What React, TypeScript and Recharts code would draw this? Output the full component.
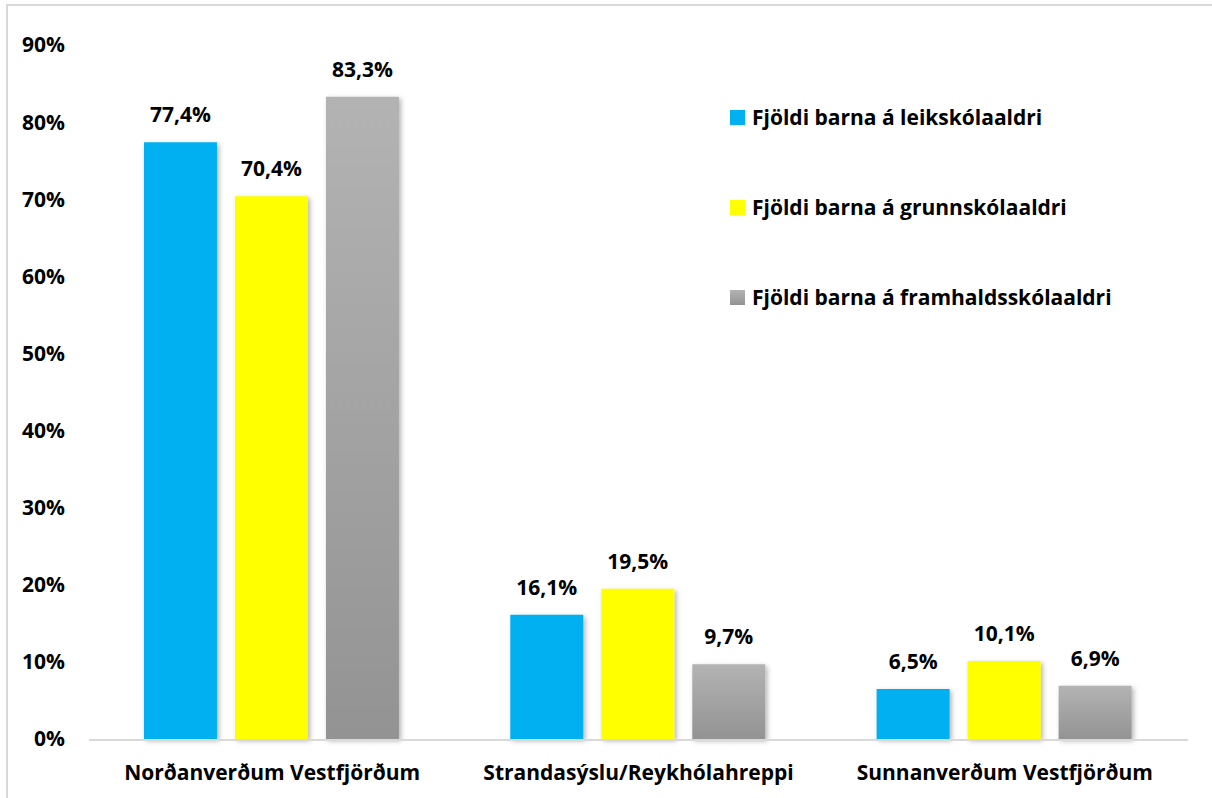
import {
  BarChart,
  Bar,
  XAxis,
  YAxis,
  LabelList,
} from "recharts";

const regions = [
  "Norðanverðum Vestfjörðum",
  "Strandasýslu/Reykhólahreppi",
  "Sunnanverðum Vestfjörðum",
];
const leikskoli = [77.4, 16.1, 6.5];
const grunnskoli = [70.4, 19.5, 10.1];
const framhaldsskoli = [83.3, 9.7, 6.9];
const yTicks = [0, 10, 20, 30, 40, 50, 60, 70, 80, 90];
const boundaryTicks = [0, 1, 2, 3];

const series = [
  { key: "leik", name: "Fjöldi barna á leikskólaaldri", fill: "#00B0F0" },
  { key: "grunn", name: "Fjöldi barna á grunnskólaaldri", fill: "#FFFF00" },
  { key: "fram", name: "Fjöldi barna á framhaldsskólaaldri", fill: "url(#grayGrad)" },
];

const chartData = regions.map((name, i) => ({
  name,
  leik: leikskoli[i],
  grunn: grunnskoli[i],
  fram: framhaldsskoli[i],
}));

const FONT = "'Open Sans', sans-serif";
const TEXT = { fill: "#000", fontSize: 21, fontWeight: 700, fontFamily: FONT };
const fmt = (v: number) => `${v.toFixed(1).replace(".", ",")}%`;

function LegendBox() {
  return (
    <div
      style={{
        position: "absolute",
        left: 730,
        top: 72,
        fontFamily: FONT,
        fontWeight: 700,
        fontSize: 21,
        color: "#000",
      }}
    >
      {series.map((s) => (
        <div key={s.key} style={{ display: "flex", alignItems: "center", height: 90 }}>
          <span
            style={{
              display: "inline-block",
              width: 15,
              height: 15,
              marginRight: 7,
              background: s.key === "fram" ? "linear-gradient(#b3b3b3, #939393)" : s.fill,
            }}
          />
          <span>{s.name}</span>
        </div>
      ))}
    </div>
  );
}

export default function App() {
  return (
    <div
      style={{
        position: "absolute",
        left: 0,
        top: 0,
        width: 1212,
        height: 798,
        background: "#fff",
        overflow: "hidden",
      }}
    >
      <div
        style={{
          position: "absolute",
          left: 6,
          top: 4,
          width: 1300,
          height: 900,
          border: "2px solid #d9d9d9",
        }}
      />
      <BarChart
        width={1212}
        height={798}
        data={chartData}
        margin={{ top: 45, right: 24, bottom: 0, left: 0 }}
        barCategoryGap="15%"
        barGap={18}
        style={{ position: "absolute", left: 0, top: 0 }}
      >
        <defs>
          <linearGradient id="grayGrad" x1="0" y1="0" x2="0" y2="1">
            <stop offset="0%" stopColor="#b3b3b3" />
            <stop offset="100%" stopColor="#939393" />
          </linearGradient>
          <filter id="shadow" x="-20%" y="-20%" width="140%" height="140%">
            <feDropShadow dx="2" dy="2" stdDeviation="2.5" floodColor="#000" floodOpacity="0.3" />
          </filter>
        </defs>
        <XAxis
          dataKey="name"
          axisLine={false}
          tickLine={false}
          tickSize={0}
          tickMargin={26}
          height={1}
          tick={TEXT}
          interval={0}
        />
        <XAxis
          xAxisId="bounds"
          type="number"
          domain={[0, 3]}
          ticks={boundaryTicks}
          tick={false}
          tickSize={7}
          height={58}
          stroke="#d9d9d9"
          strokeWidth={2}
          allowDataOverflow
        />
        <YAxis
          width={89}
          domain={[0, 90]}
          ticks={yTicks}
          axisLine={false}
          tickLine={false}
          tickSize={0}
          tickMargin={24}
          tickFormatter={(v) => `${v}%`}
          tick={TEXT}
        />
        {series.map((s) => (
          <Bar
            key={s.key}
            dataKey={s.key}
            name={s.name}
            fill={s.fill}
            filter="url(#shadow)"
            isAnimationActive={false}
          >
            <LabelList
              dataKey={s.key}
              position="top"
              offset={20}
              formatter={(v: number) => fmt(v)}
              style={TEXT}
            />
          </Bar>
        ))}
      </BarChart>
      <LegendBox />
    </div>
  );
}
